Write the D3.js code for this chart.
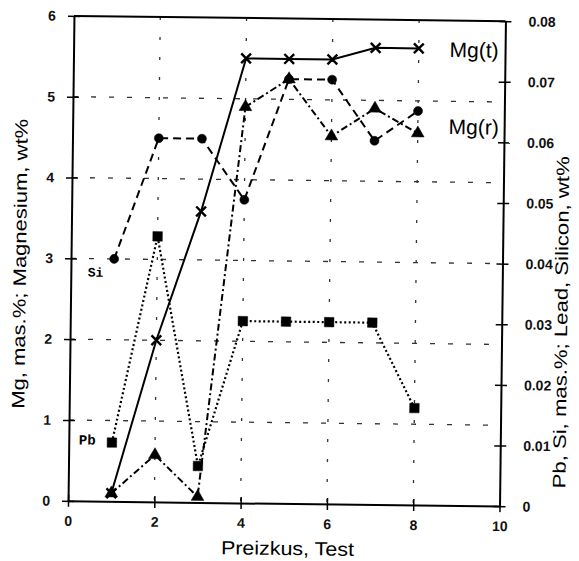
<!DOCTYPE html>
<html>
<head>
<meta charset="utf-8">
<script src="https://cdn.jsdelivr.net/npm/d3@7"></script>
<style>
  body { margin: 0; background: #fff; }
  svg { display: block; }
</style>
</head>
<body>
<div id="chart"></div>
<script>
const tests = [1, 2, 3, 4, 5, 6, 7, 8];
const mgTotal = [0.1, 2.0, 3.6, 5.5, 5.5, 5.5, 5.65, 5.65];      // Mg(t), left axis
const mgResidual = [0.1, 0.58, 0.07, 4.9, 5.25, 4.55, 4.9, 4.6];  // Mg(r), left axis
const silicon = [0.040, 0.060, 0.060, 0.050, 0.070, 0.070, 0.060, 0.065]; // Si, right axis
const lead = [0.0097, 0.0438, 0.006, 0.030, 0.030, 0.030, 0.030, 0.016];  // Pb, right axis

const xTicks = [0, 2, 4, 6, 8, 10];
const leftTicks = [0, 1, 2, 3, 4, 5, 6];
const rightTicks = [0, 0.01, 0.02, 0.03, 0.04, 0.05, 0.06, 0.07, 0.08];

const width = 579;
const height = 561;
const plot = { left: 71, right: 502.5, top: 18.5, bottom: 503.5 };

const svg = d3.select("#chart")
  .append("svg")
  .attr("width", width)
  .attr("height", height);

// the scanned figure sits slightly tilted
const g = svg.append("g")
  .attr("transform", "rotate(0.7, 287, 261)");

const x = d3.scaleLinear().domain([0, 10]).range([plot.left, plot.right]);
const yLeft = d3.scaleLinear().domain([0, 6]).range([plot.bottom, plot.top]);
const yRight = d3.scaleLinear().domain([0, 0.08]).range([plot.bottom, plot.top]);

// grid
g.append("g")
  .selectAll("line")
  .data(leftTicks.slice(1, -1))
  .enter().append("line")
    .attr("x1", plot.left)
    .attr("x2", plot.right)
    .attr("y1", d => yLeft(d))
    .attr("y2", d => yLeft(d))
    .attr("stroke", "#333")
    .attr("stroke-width", 1.3)
    .attr("stroke-dasharray", "5,13");

g.append("g")
  .selectAll("line")
  .data(xTicks.slice(1, -1))
  .enter().append("line")
    .attr("x1", d => x(d))
    .attr("x2", d => x(d))
    .attr("y1", plot.top)
    .attr("y2", plot.bottom)
    .attr("stroke", "#333")
    .attr("stroke-width", 1.3)
    .attr("stroke-dasharray", "3,17");

// frame top
g.append("line")
  .attr("x1", plot.left).attr("x2", plot.right)
  .attr("y1", plot.top).attr("y2", plot.top)
  .attr("stroke", "#000").attr("stroke-width", 2);

function styleAxis(sel, horizontal) {
  sel.select(".domain").attr("stroke-width", 2).attr("stroke", "#000");
  sel.selectAll(".tick line").attr("stroke-width", 1.5);
  if (horizontal) sel.selectAll(".tick line").attr("y1", -6).attr("y2", 6);
  else sel.selectAll(".tick line").attr("x1", -6).attr("x2", 6);
  sel.selectAll(".tick text")
    .attr("font-family", "Liberation Sans, Arial, sans-serif")
    .attr("font-weight", "bold")
    .attr("font-size", 14)
    .attr("fill", "#111");
}

g.append("g")
  .attr("transform", `translate(0, ${plot.bottom})`)
  .call(d3.axisBottom(x).tickValues(xTicks).tickFormat(d3.format("d")).tickSizeOuter(0).tickPadding(9))
  .call(s => styleAxis(s, true));

g.append("g")
  .attr("transform", `translate(${plot.left}, 0)`)
  .call(d3.axisLeft(yLeft).tickValues(leftTicks).tickFormat(d3.format("d")).tickSizeOuter(0).tickPadding(12))
  .call(s => styleAxis(s, false));

g.append("g")
  .attr("transform", `translate(${plot.right}, 0)`)
  .call(d3.axisRight(yRight).tickValues(rightTicks)
    .tickFormat(d => d === 0 ? "0" : d3.format(".2f")(d)).tickSizeOuter(0).tickPadding(17))
  .call(s => styleAxis(s, false));

// series
const series = [
  { name: "Pb", values: lead, y: yRight, dash: "2,2.5", width: 2.2, symbol: d3.symbolSquare, size: 90, stroke: false },
  { name: "Si", values: silicon, y: yRight, dash: "8,5", width: 2, symbol: d3.symbolCircle, size: 64, stroke: false },
  { name: "Mg(r)", values: mgResidual, y: yLeft, dash: "7,3,2,3", width: 2, symbol: d3.symbolTriangle, size: 70, stroke: false },
  { name: "Mg(t)", values: mgTotal, y: yLeft, dash: null, width: 2, symbol: d3.symbolTimes, size: 64, stroke: true }
];

series.forEach(s => {
  const pts = tests.map((t, i) => [t, s.values[i]]);
  const line = d3.line().x(d => x(d[0])).y(d => s.y(d[1]));

  g.append("path")
    .datum(pts)
    .attr("d", line)
    .attr("fill", "none")
    .attr("stroke", "#000")
    .attr("stroke-width", s.width)
    .attr("stroke-dasharray", s.dash);

  g.append("g")
    .selectAll("path")
    .data(pts)
    .enter().append("path")
      .attr("transform", d => `translate(${x(d[0])}, ${s.y(d[1])})`)
      .attr("d", d3.symbol().type(s.symbol).size(s.size))
      .attr("fill", s.stroke ? "none" : "#000")
      .attr("stroke", "#000")
      .attr("stroke-width", s.stroke ? 2.4 : 0.5);
});

// series labels
const labelFont = "Liberation Sans, Arial, sans-serif";
g.append("text").attr("x", 447).attr("y", 55).attr("font-family", labelFont).attr("font-size", 21).text("Mg(t)");
g.append("text").attr("x", 447).attr("y", 132).attr("font-family", labelFont).attr("font-size", 21).text("Mg(r)");
g.append("text").attr("x", 88).attr("y", 279).attr("font-family", "Liberation Mono, monospace")
  .attr("font-weight", "bold").attr("font-size", 13).text("Si");
g.append("text").attr("x", 81).attr("y", 447).attr("font-family", "Liberation Mono, monospace")
  .attr("font-weight", "bold").attr("font-size", 14).text("Pb");

// axis titles
g.append("text")
  .attr("x", 291)
  .attr("y", 555)
  .attr("text-anchor", "middle")
  .attr("font-family", labelFont)
  .attr("font-size", 19)
  .attr("textLength", 133)
  .attr("lengthAdjust", "spacingAndGlyphs")
  .text("Preizkus, Test");

g.append("text")
  .attr("transform", "translate(26, 267) rotate(-90)")
  .attr("text-anchor", "middle")
  .attr("font-family", labelFont)
  .attr("font-size", 18)
  .attr("textLength", 290)
  .attr("lengthAdjust", "spacingAndGlyphs")
  .text("Mg, mas.%; Magnesium, wt%");

g.append("text")
  .attr("transform", "translate(568, 319) rotate(-90)")
  .attr("text-anchor", "middle")
  .attr("font-family", labelFont)
  .attr("font-size", 18)
  .attr("textLength", 332)
  .attr("lengthAdjust", "spacingAndGlyphs")
  .text("Pb, Si, mas.%; Lead, Silicon, wt%");
</script>
</body>
</html>
